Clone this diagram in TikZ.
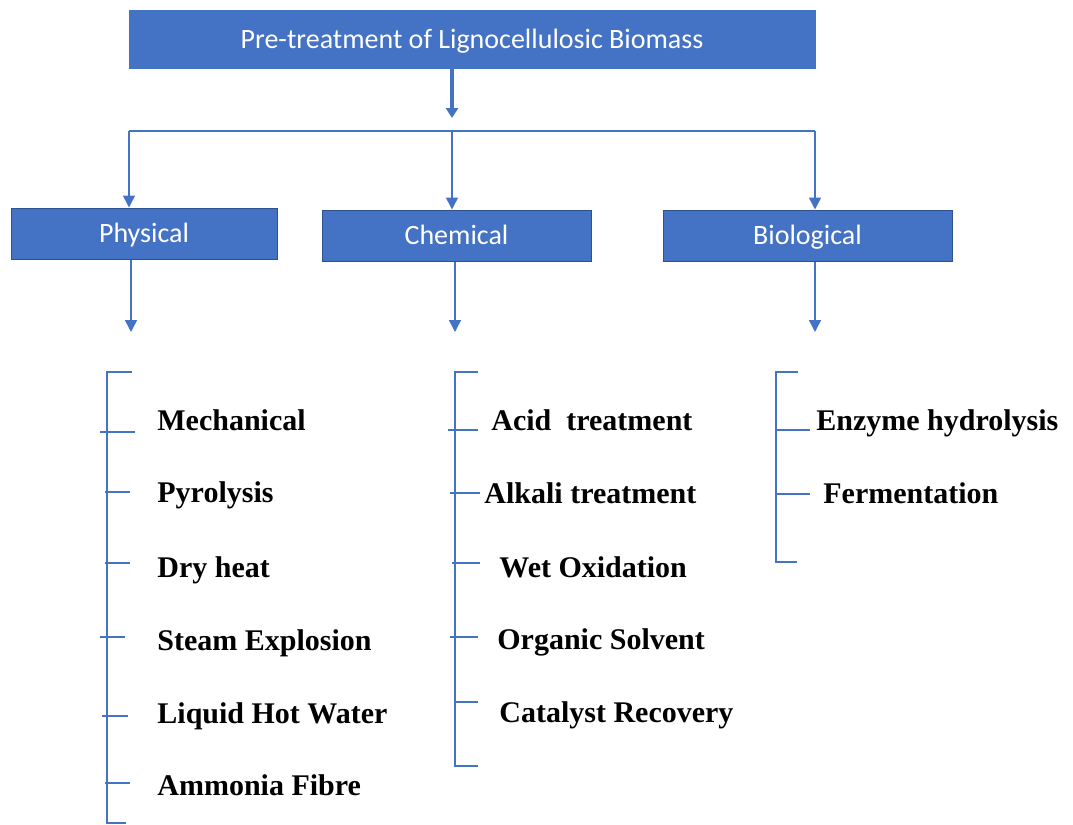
\documentclass[tikz,border=0pt]{standalone}
\usepackage{fontspec}
\setmainfont{Liberation Serif}
\newfontfamily\boxfont{Carlito}
\usetikzlibrary{arrows.meta}
\definecolor{boxblue}{HTML}{4472C4}
\definecolor{boxedge}{HTML}{2F528F}
\tikzset{
  catbox/.style={draw=boxedge, line width=0.5pt, fill=boxblue, text=white, font=\boxfont\fontsize{14}{16}\selectfont, minimum height=25.5pt, inner sep=0pt, text height=10pt, text depth=1pt},
  item/.style={anchor=base west, font=\bfseries\fontsize{15}{18}\selectfont, inner sep=0pt},
  link/.style={boxblue, line width=0.8pt, -{Triangle[length=6pt,width=6pt]}},
  brace/.style={boxblue, line width=0.8pt},
}
\begin{document}
\begin{tikzpicture}[x=0.5pt, y=-0.5pt]
    \useasboundingbox (0,0) rectangle (1073,825);

    % boxes
    \node[catbox, draw=boxblue, minimum width=343pt, minimum height=29pt] (top) at (472,39) {Pre-treatment of Lignocellulosic Biomass};
    \node[catbox, minimum width=133pt] (phys) at (144,233.5) {Physical};
    \node[catbox, minimum width=134.5pt] (chem) at (456.5,235.5) {Chemical};
    \node[catbox, minimum width=144.5pt] (bio) at (807.5,235.5) {Biological};

    % splitting
    \coordinate (split) at (452,118);
    \coordinate (hl) at (129,131);
    \coordinate (hm) at (452,131);
    \coordinate (hr) at (815,131);
    \draw[boxblue, line width=2pt, -{Triangle[length=5pt,width=6pt]}] (top.south -| split) -- (split);
    \draw[brace] (hl) -- (hr);
    \draw[link] (hl) -- (phys.north -| hl);
    \draw[link] (hm) -- (chem.north -| hm);
    \draw[link] (hr) -- (bio.north -| hr);

    % down to the lists
    \coordinate (pdown) at (131,332);
    \coordinate (cdown) at (455,332);
    \coordinate (bdown) at (815,332);
    \draw[link] (phys.south -| pdown) -- (pdown);
    \draw[link] (chem.south -| cdown) -- (cdown);
    \draw[link] (bio.south -| bdown) -- (bdown);

    % physical list
    \draw[brace] (132,372) -- (107,372) -- (107,823) -- (126,823);
    \foreach \y/\a/\b in {432/100/135, 492/105/130, 563/105/130, 637/100/125, 716/102/128, 783/105/130}
        \draw[brace] (\a,\y) -- (\b,\y);
    \node[item] (mech) at (157,430) {Mechanical};
    \node[item] (pyro) at (157,502) {Pyrolysis};
    \node[item] (dry) at (157,577) {Dry heat};
    \node[item] (steam) at (157,650) {Steam Explosion};
    \node[item] (lhw) at (157,723) {Liquid Hot Water};
    \node[item] (ammo) at (157,795) {Ammonia Fibre};

    % chemical list
    \draw[brace] (478,372) -- (455,372) -- (455,766) -- (478,766);
    \foreach \y/\a/\b in {430/448/478, 493/450/480, 563/452/480, 637/450/478, 702/455/478}
        \draw[brace] (\a,\y) -- (\b,\y);
    \node[item] (acid) at (491,430) {Acid\ \ treatment};
    \node[item] (alk) at (484,503) {Alkali treatment};
    \node[item] (wet) at (499,577) {Wet Oxidation};
    \node[item] (org) at (497,649) {Organic Solvent};
    \node[item] (cat) at (499,722) {Catalyst Recovery};

    % biological list
    \draw[brace] (798,372) -- (776,372) -- (776,562) -- (797,562);
    \foreach \y/\a/\b in {430/776/810, 494/776/810}
        \draw[brace] (\a,\y) -- (\b,\y);
    \node[item] (enz) at (816,430) {Enzyme hydrolysis};
    \node[item] (ferm) at (823,503) {Fermentation};
\end{tikzpicture}
\end{document}
